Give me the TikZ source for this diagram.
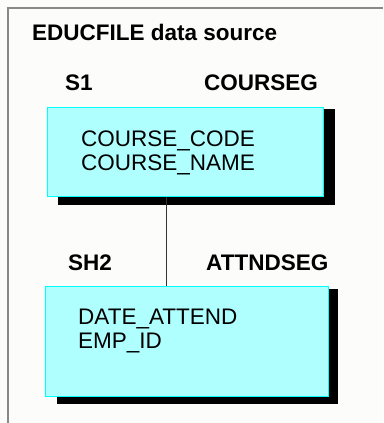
\documentclass[tikz,border=0pt]{standalone}
\usepackage{fontspec}
\setmainfont{Liberation Sans}
\usetikzlibrary{positioning}
\definecolor{pagebg}{HTML}{FCFDFB}
\definecolor{framegray}{HTML}{888888}
\definecolor{segfill}{HTML}{B0FFFF}
\definecolor{segline}{HTML}{00FFFF}
\tikzset{
  segbox/.style={draw=segline, line width=1pt, fill=segfill, inner sep=0pt},
  segshadow/.style={fill=black},
  seglabel/.style={font=\fontsize{22.5}{24}\selectfont\bfseries, inner sep=0pt, anchor=base west},
  fieldtxt/.style={font=\fontsize{22.5}{24}\selectfont, inner sep=0pt, anchor=base west},
}
\begin{document}
\begin{tikzpicture}[x=1pt,y=-1pt]
    \fill[pagebg] (0,0) rectangle (383,423);
    \useasboundingbox (0,0) rectangle (383,423);
    \draw[framegray, line width=2pt] (8,423) -- (8,8) -- (383,8);
    \node[seglabel] (title) at (32,40) {EDUCFILE data source};
    % root segment
    \node[seglabel] (s1) at (65,90) {S1};
    \node[seglabel] (courseg) at (204,90) {COURSEG};
    \fill[segshadow] (58,109) rectangle (335,205);
    \node[segbox, minimum width=276pt, minimum height=89pt, anchor=north west] (coursebox) at (47,107) {};
    \node[fieldtxt] (coursecode) at (81,146) {COURSE\_CODE};
    \node[fieldtxt] (coursename) at (81,170) {COURSE\_NAME};
    % child segment
    \node[seglabel] (sh2) at (68,270) {SH2};
    \node[seglabel] (attndseg) at (206,270) {ATTNDSEG};
    \fill[segshadow] (57,289) rectangle (338,404);
    \node[segbox, minimum width=283pt, minimum height=110pt, anchor=north west] (attndbox) at (45,286) {};
    \node[fieldtxt] (dateattend) at (78,324) {DATE\_ATTEND};
    \node[fieldtxt] (empid) at (78,348) {EMP\_ID};
    \draw[line width=1pt, black!80] ([xshift=-19pt]coursebox.south) -- ([xshift=-19pt]coursebox.south |- attndbox.north);
\end{tikzpicture}
\end{document}
